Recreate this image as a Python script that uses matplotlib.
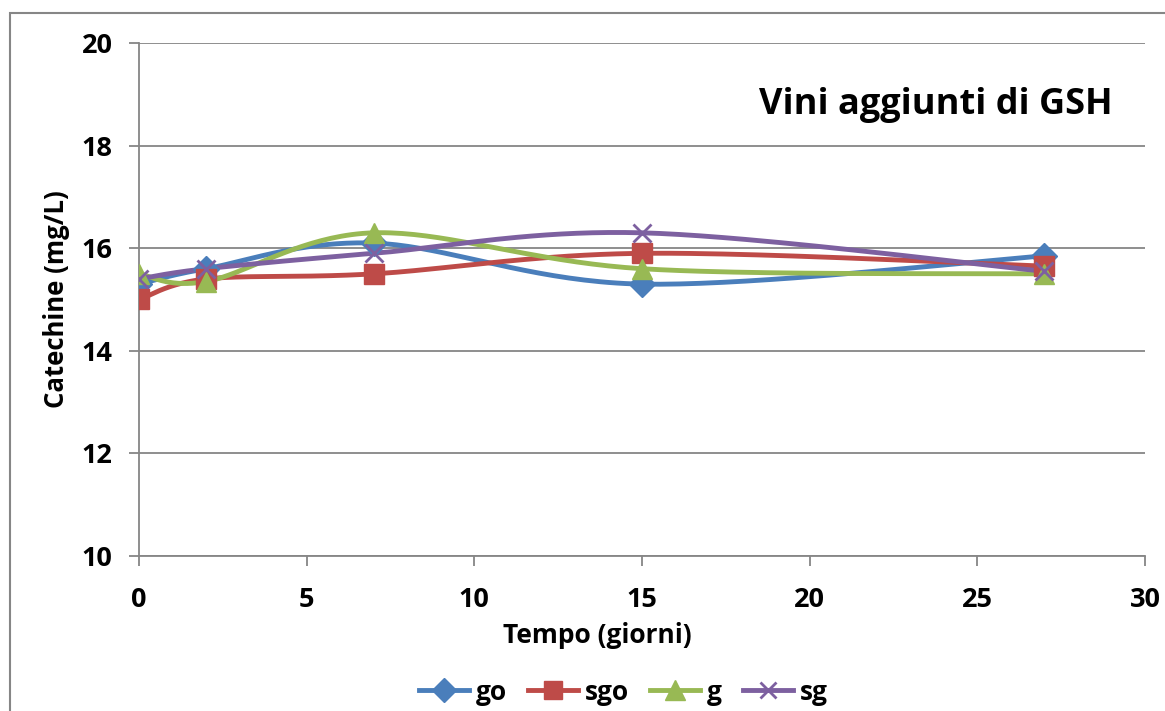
import numpy as np
import matplotlib.pyplot as plt
from matplotlib.patches import Rectangle

plt.rcParams['font.family'] = ['Open Sans', 'DejaVu Sans']
plt.rcParams['font.weight'] = 'bold'

# catechine content over time (mg/L)
giorni = [0, 2, 7, 15, 27]
go = [15.3, 15.6, 16.1, 15.3, 15.85]
sgo = [15.0, 15.4, 15.5, 15.9, 15.65]
g = [15.5, 15.35, 16.3, 15.6, 15.5]
sg = [15.4, 15.6, 15.9, 16.3, 15.55]

series = [
    ('go', go, '#4A7EBB', 'D', 13),
    ('sgo', sgo, '#BE4B48', 's', 14.5),
    ('g', g, '#98B954', '^', 15),
    ('sg', sg, '#7D60A0', 'x', 13),
]


def smooth(x, y, n=40):
    # bezier smoothing like spreadsheet "smoothed line"
    p = np.column_stack([x, y]).astype(float)
    p = np.vstack([p[0], p, p[-1]])
    out = []
    t = np.linspace(0, 1, n)[:, None]
    for i in range(1, len(p) - 2):
        p0, p1, p2, p3 = p[i - 1], p[i], p[i + 1], p[i + 2]
        c1 = p1 + (p2 - p0) / 6
        c2 = p2 - (p3 - p1) / 6
        seg = ((1 - t) ** 3) * p1 + 3 * ((1 - t) ** 2) * t * c1 + 3 * (1 - t) * t ** 2 * c2 + t ** 3 * p2
        out.append(seg)
    s = np.vstack(out)
    return s[:, 0], s[:, 1]


fig = plt.figure(figsize=(11.65, 7.11), dpi=100)
ax = fig.add_axes([139 / 1165, 1 - 556 / 711, (1145 - 139) / 1165, (556 - 43) / 711])

handles = []
for name, vals, col, mk, ms in series:
    sx, sy = smooth(giorni, vals)
    ax.plot(sx, sy, color=col, lw=3.5, zorder=3, solid_capstyle='round')
    mew = 2 if mk == 'x' else 1
    ax.plot(giorni, vals, ls='none', marker=mk, ms=ms, color=col, mec=col, mew=mew, zorder=4)
    h, = ax.plot([], [], color=col, lw=3.5, marker=mk, ms=ms - 1, mew=mew, label=name)
    handles.append(h)

ax.set_xlim(0, 30)
ax.set_ylim(10, 20)
ax.set_xticks(range(0, 31, 5))
ax.set_yticks(range(10, 21, 2))
ax.yaxis.grid(True, color='#868686', lw=1.3)
ax.set_axisbelow(True)
for s in ['top', 'right']:
    ax.spines[s].set_visible(False)
for s in ['left', 'bottom']:
    ax.spines[s].set_color('#868686')
    ax.spines[s].set_linewidth(1.3)
ax.tick_params(axis='both', direction='out', length=7, width=1.3, color='#868686',
               labelsize=19.5)
ax.tick_params(axis='y', pad=12)
ax.tick_params(axis='x', pad=15)
for lbl in ax.get_xticklabels() + ax.get_yticklabels():
    lbl.set_fontweight('bold')

ax.set_xlabel('Tempo (giorni)', fontsize=19, fontweight='bold')
ax.xaxis.set_label_coords((597 - 139) / 1006, -0.128)
ax.set_ylabel('Catechine (mg/L)', fontsize=18.5, fontweight='bold', labelpad=8)

ax.text(0.968, 0.88, 'Vini aggiunti di GSH', transform=ax.transAxes, ha='right', va='center',
        fontsize=26, fontweight='bold')

fig.legend(handles=handles, loc='center', bbox_to_anchor=(0.535, 1 - 692 / 711), ncol=4,
           frameon=False, handlelength=1.9, handletextpad=0.25, columnspacing=0.8,
           prop={'size': 19, 'weight': 'bold'})

# chart frame
fig.patches.append(Rectangle((10 / 1165, -0.1), 1.2, 1.1 - 13 / 711, transform=fig.transFigure,
                             fill=False, ec='#868686', lw=1.5))

fig.savefig('out.png', dpi=100)
